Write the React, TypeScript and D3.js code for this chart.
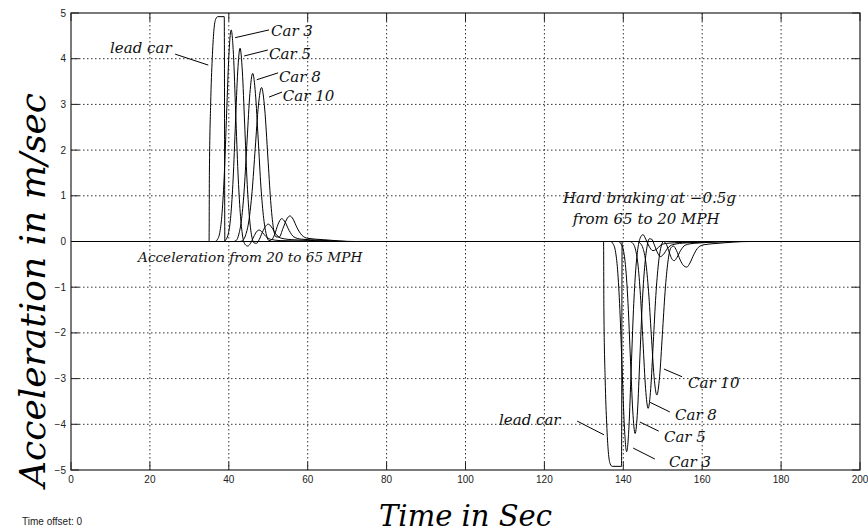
import React from "react";
import * as d3 from "d3";

// ---------- data ----------
const TIME_TICKS = [0, 20, 40, 60, 80, 100, 120, 140, 160, 180, 200];
const ACC_TICKS = [-5, -4, -3, -2, -1, 0, 1, 2, 3, 4, 5];

const SERIES_NAMES = ["lead car", "Car 3", "Car 5", "Car 8", "Car 10"];

// acceleration event (20 -> 65 MPH)
const leadAccel: [number, number][] = [
  [35.0, 0], [35.08, 1.5], [35.4, 3.0], [35.8, 4.0], [36.2, 4.6], [36.7, 4.87],
  [37.2, 4.92], [38.85, 4.92], [39.0, 0],
];
const car3Accel: [number, number][] = [
  [36.5, 0], [37.15, 0.05], [37.73, 0.2], [38.3, 0.63], [38.88, 1.5], [39.45, 2.81],
  [40.03, 4.09], [40.6, 4.63], [41.18, 4.09], [41.75, 2.81], [42.33, 1.5], [42.9, 0.63],
  [43.5, 0.12], [44.1, -0.06], [44.8, -0.1], [45.5, -0.04], [46.3, 0.1], [47.0, 0.21],
  [47.7, 0.25], [48.5, 0.2], [49.4, 0.11], [50.5, 0.05], [53, 0.02], [60, 0.01], [66, 0],
];
const car5Accel: [number, number][] = [
  [38.7, 0], [39.35, 0.05], [39.93, 0.19], [40.51, 0.57], [41.1, 1.37], [41.68, 2.57],
  [42.27, 3.73], [42.85, 4.23], [43.43, 3.73], [44.02, 2.57], [44.6, 1.37], [45.19, 0.57],
  [45.8, 0.12], [46.4, -0.03], [47.0, -0.04], [47.7, 0.04], [48.5, 0.2], [49.3, 0.33],
  [50.0, 0.38], [50.8, 0.32], [51.8, 0.18], [53, 0.08], [56, 0.04], [62, 0.02], [68, 0],
];
const car8Accel: [number, number][] = [
  [41.2, 0], [41.85, 0.02], [42.55, 0.16], [43.25, 0.5], [43.95, 1.19], [44.65, 2.24],
  [45.35, 3.24], [46.05, 3.68], [46.75, 3.24], [47.45, 2.24], [48.15, 1.19], [48.85, 0.5],
  [49.55, 0.14], [50.2, 0.02], [50.9, 0.04], [51.6, 0.15], [52.5, 0.38], [53.4, 0.5],
  [54.3, 0.42], [55.3, 0.24], [56.5, 0.1], [58.5, 0.05], [63, 0.03], [70, 0],
];
const car10Accel: [number, number][] = [
  [42.8, 0], [43.5, 0.02], [44.3, 0.15], [45.1, 0.46], [45.9, 1.09], [46.7, 2.04],
  [47.5, 2.97], [48.3, 3.37], [49.1, 2.9], [49.9, 1.85], [50.6, 0.9], [51.3, 0.3],
  [52.0, 0.1], [52.8, 0.1], [53.7, 0.28], [54.7, 0.49], [55.5, 0.56], [56.3, 0.49],
  [57.3, 0.3], [58.5, 0.14], [60, 0.07], [64, 0.04], [72, 0],
];

// hard braking event (65 -> 20 MPH)
const leadBrake: [number, number][] = [
  [135.0, 0], [135.08, -1.5], [135.4, -3.0], [135.8, -4.0], [136.2, -4.6], [136.7, -4.87],
  [137.2, -4.92], [139.55, -4.92], [139.7, 0],
];
const car3Brake: [number, number][] = [
  [136.8, 0], [137.4, -0.05], [137.98, -0.2], [138.55, -0.62], [139.13, -1.49], [139.7, -2.79],
  [140.28, -4.06], [140.85, -4.6], [141.43, -4.06], [142.0, -2.79], [142.58, -1.49],
  [143.15, -0.62], [143.7, -0.15], [144.3, 0.08], [145.0, 0.15], [145.7, 0.05], [146.5, -0.1],
  [147.5, -0.2], [148.4, -0.17], [149.5, -0.08], [151, -0.04], [155, -0.02], [165, 0],
];
const car5Brake: [number, number][] = [
  [138.8, 0], [139.4, -0.05], [140.0, -0.18], [140.6, -0.57], [141.2, -1.36], [141.8, -2.55],
  [142.4, -3.71], [143.0, -4.2], [143.6, -3.71], [144.2, -2.55], [144.8, -1.36], [145.4, -0.57],
  [146.0, -0.12], [146.6, 0.06], [147.2, 0.05], [147.9, -0.08], [148.7, -0.25], [149.4, -0.33],
  [150.2, -0.28], [151.2, -0.15], [152.5, -0.07], [156, -0.03], [168, 0],
];
const car8Brake: [number, number][] = [
  [141.7, 0], [142.4, -0.04], [143.05, -0.16], [143.7, -0.49], [144.35, -1.18], [145.0, -2.21],
  [145.65, -3.22], [146.3, -3.65], [146.95, -3.22], [147.6, -2.21], [148.25, -1.18],
  [148.9, -0.49], [149.55, -0.12], [150.2, 0.0], [150.9, -0.06], [151.7, -0.25], [152.3, -0.38],
  [152.9, -0.42], [153.6, -0.35], [154.5, -0.2], [155.7, -0.08], [158, -0.04], [170, 0],
];
const car10Brake: [number, number][] = [
  [143.6, 0], [144.3, -0.04], [145.0, -0.15], [145.7, -0.45], [146.4, -1.09], [147.1, -2.04],
  [147.8, -2.96], [148.5, -3.36], [149.2, -2.96], [149.9, -2.04], [150.6, -1.09], [151.3, -0.45],
  [152.0, -0.15], [152.7, -0.1], [153.5, -0.2], [154.4, -0.4], [155.3, -0.53], [156.1, -0.56],
  [156.9, -0.47], [157.9, -0.28], [159, -0.13], [160.5, -0.07], [164, -0.04], [172, 0],
];

const ACCEL_DATA = [leadAccel, car3Accel, car5Accel, car8Accel, car10Accel];
const BRAKE_DATA = [leadBrake, car3Brake, car5Brake, car8Brake, car10Brake];

// annotation anchors in data units: [textT, textA, fromT, fromA, toT, toA]
const ACCEL_LABEL_POS: number[][] = [
  [9.9, 4.12, 26.4, 4.1, 34.8, 3.86],
  [50.7, 4.49, 50.2, 4.63, 41.6, 4.46],
  [50.2, 3.99, 49.9, 4.19, 43.9, 4.06],
  [52.7, 3.49, 52.5, 3.69, 47.1, 3.54],
  [53.7, 3.07, 53.5, 3.27, 50.2, 3.16],
];
const BRAKE_LABEL_POS: number[][] = [
  [108.5, -4.01, 128.3, -3.93, 135.1, -4.23],
  [151.6, -4.93, 148.0, -4.76, 142.5, -4.52],
  [150.3, -4.39, 149.0, -4.15, 144.2, -3.95],
  [153.1, -3.91, 151.8, -3.73, 146.8, -3.52],
  [156.4, -3.2, 154.9, -2.96, 150.3, -2.79],
];
const NOTES: { t: number; a: number; text: string }[] = [
  { t: 17.0, a: -0.45, text: "Acceleration from 20 to 65 MPH" },
  { t: 124.7, a: 0.84, text: "Hard braking at \u22120.5g" },
  { t: 127.2, a: 0.38, text: "from 65 to 20 MPH" },
];

// ---------- layout ----------
const W = 868;
const H = 532;
const M = { left: 71, right: 860, top: 13, bottom: 470 };
const SERIF = "'DejaVu Serif', serif";
const SANS = "'Liberation Sans', Arial, sans-serif";

export default function App() {
  const x = d3.scaleLinear().domain([0, 200]).range([M.left, M.right]);
  const y = d3.scaleLinear().domain([-5, 5]).range([M.bottom, M.top]);
  const line = d3
    .line<[number, number]>()
    .x((d) => x(d[0]))
    .y((d) => y(d[1]))
    .curve(d3.curveMonotoneX);

  const series = SERIES_NAMES.map((_, i) => [
    [0, 0] as [number, number],
    ...ACCEL_DATA[i],
    ...BRAKE_DATA[i],
    [200, 0] as [number, number],
  ]);

  const fmt = (v: number) => (v < 0 ? "\u2212" + Math.abs(v) : String(v));
  const tickLen = 8;

  return (
    <svg
      width={W}
      height={H}
      style={{ position: "absolute", left: 0, top: 0, background: "#fff" }}
    >
      <rect x={0} y={0} width={W} height={H} fill="#fff" />
      {/* grid */}
      <g stroke="#333" strokeWidth={1} strokeDasharray="1.5,2.5">
        {TIME_TICKS.filter((t) => t > 0 && t < 200).map((t) => (
          <line key={"gx" + t} x1={x(t)} x2={x(t)} y1={M.top} y2={M.bottom} />
        ))}
        {ACC_TICKS.filter((a) => a > -5 && a < 5).map((a) => (
          <line key={"gy" + a} x1={M.left} x2={M.right} y1={y(a)} y2={y(a)} />
        ))}
      </g>
      {/* ticks */}
      <g stroke="#222" strokeWidth={1}>
        {TIME_TICKS.map((t) => (
          <g key={"tx" + t}>
            <line x1={x(t)} x2={x(t)} y1={M.bottom} y2={M.bottom - tickLen} />
            <line x1={x(t)} x2={x(t)} y1={M.top} y2={M.top + tickLen} />
          </g>
        ))}
        {ACC_TICKS.map((a) => (
          <g key={"ty" + a}>
            <line x1={M.left} x2={M.left + tickLen} y1={y(a)} y2={y(a)} />
            <line x1={M.right} x2={M.right - tickLen} y1={y(a)} y2={y(a)} />
          </g>
        ))}
      </g>
      {/* curves */}
      <g fill="none" stroke="#000" strokeWidth={1}>
        {series.map((s, i) => (
          <path key={SERIES_NAMES[i]} d={line(s) || ""} />
        ))}
      </g>
      {/* box */}
      <rect
        x={M.left}
        y={M.top}
        width={M.right - M.left}
        height={M.bottom - M.top}
        fill="none"
        stroke="#222"
        strokeWidth={1.2}
      />
      {/* tick labels */}
      <g fontFamily={SANS} fontSize={10} fill="#222">
        {TIME_TICKS.map((t) => (
          <text key={"lx" + t} x={x(t)} y={M.bottom + 13} textAnchor="middle">
            {fmt(t)}
          </text>
        ))}
        {ACC_TICKS.map((a) => (
          <text key={"ly" + a} x={M.left - 5} y={y(a) + 3.5} textAnchor="end">
            {fmt(a)}
          </text>
        ))}
      </g>
      {/* annotations */}
      <g fontFamily={SERIF} fontStyle="italic" fontSize={15} fill="#111">
        {[ACCEL_LABEL_POS, BRAKE_LABEL_POS].map((pos, k) =>
          pos.map((p, i) => (
            <g key={"ann" + k + i}>
              <line
                x1={x(p[2])}
                y1={y(p[3])}
                x2={x(p[4])}
                y2={y(p[5])}
                stroke="#000"
                strokeWidth={1}
              />
              <text x={x(p[0])} y={y(p[1])}>
                {SERIES_NAMES[i]}
              </text>
            </g>
          ))
        )}
        {NOTES.map((n, i) => (
          <text key={"note" + i} x={x(n.t)} y={y(n.a)} fontSize={i === 0 ? 13.6 : 15}>
            {n.text}
          </text>
        ))}
      </g>
      {/* axis titles */}
      <text
        x={(M.left + M.right) / 2}
        y={526}
        textAnchor="middle"
        fontFamily={SERIF}
        fontStyle="italic"
        fontSize={29}
        fill="#000"
      >
        Time in Sec
      </text>
      <text
        transform={`translate(45, 290) rotate(-90)`}
        textAnchor="middle"
        fontFamily={SERIF}
        fontStyle="italic"
        fontSize={36}
        fill="#000"
      >
        Acceleration in m/sec
      </text>
      <text x={22} y={525} fontFamily={SANS} fontSize={10} fill="#222">
        Time offset: 0
      </text>
    </svg>
  );
}
